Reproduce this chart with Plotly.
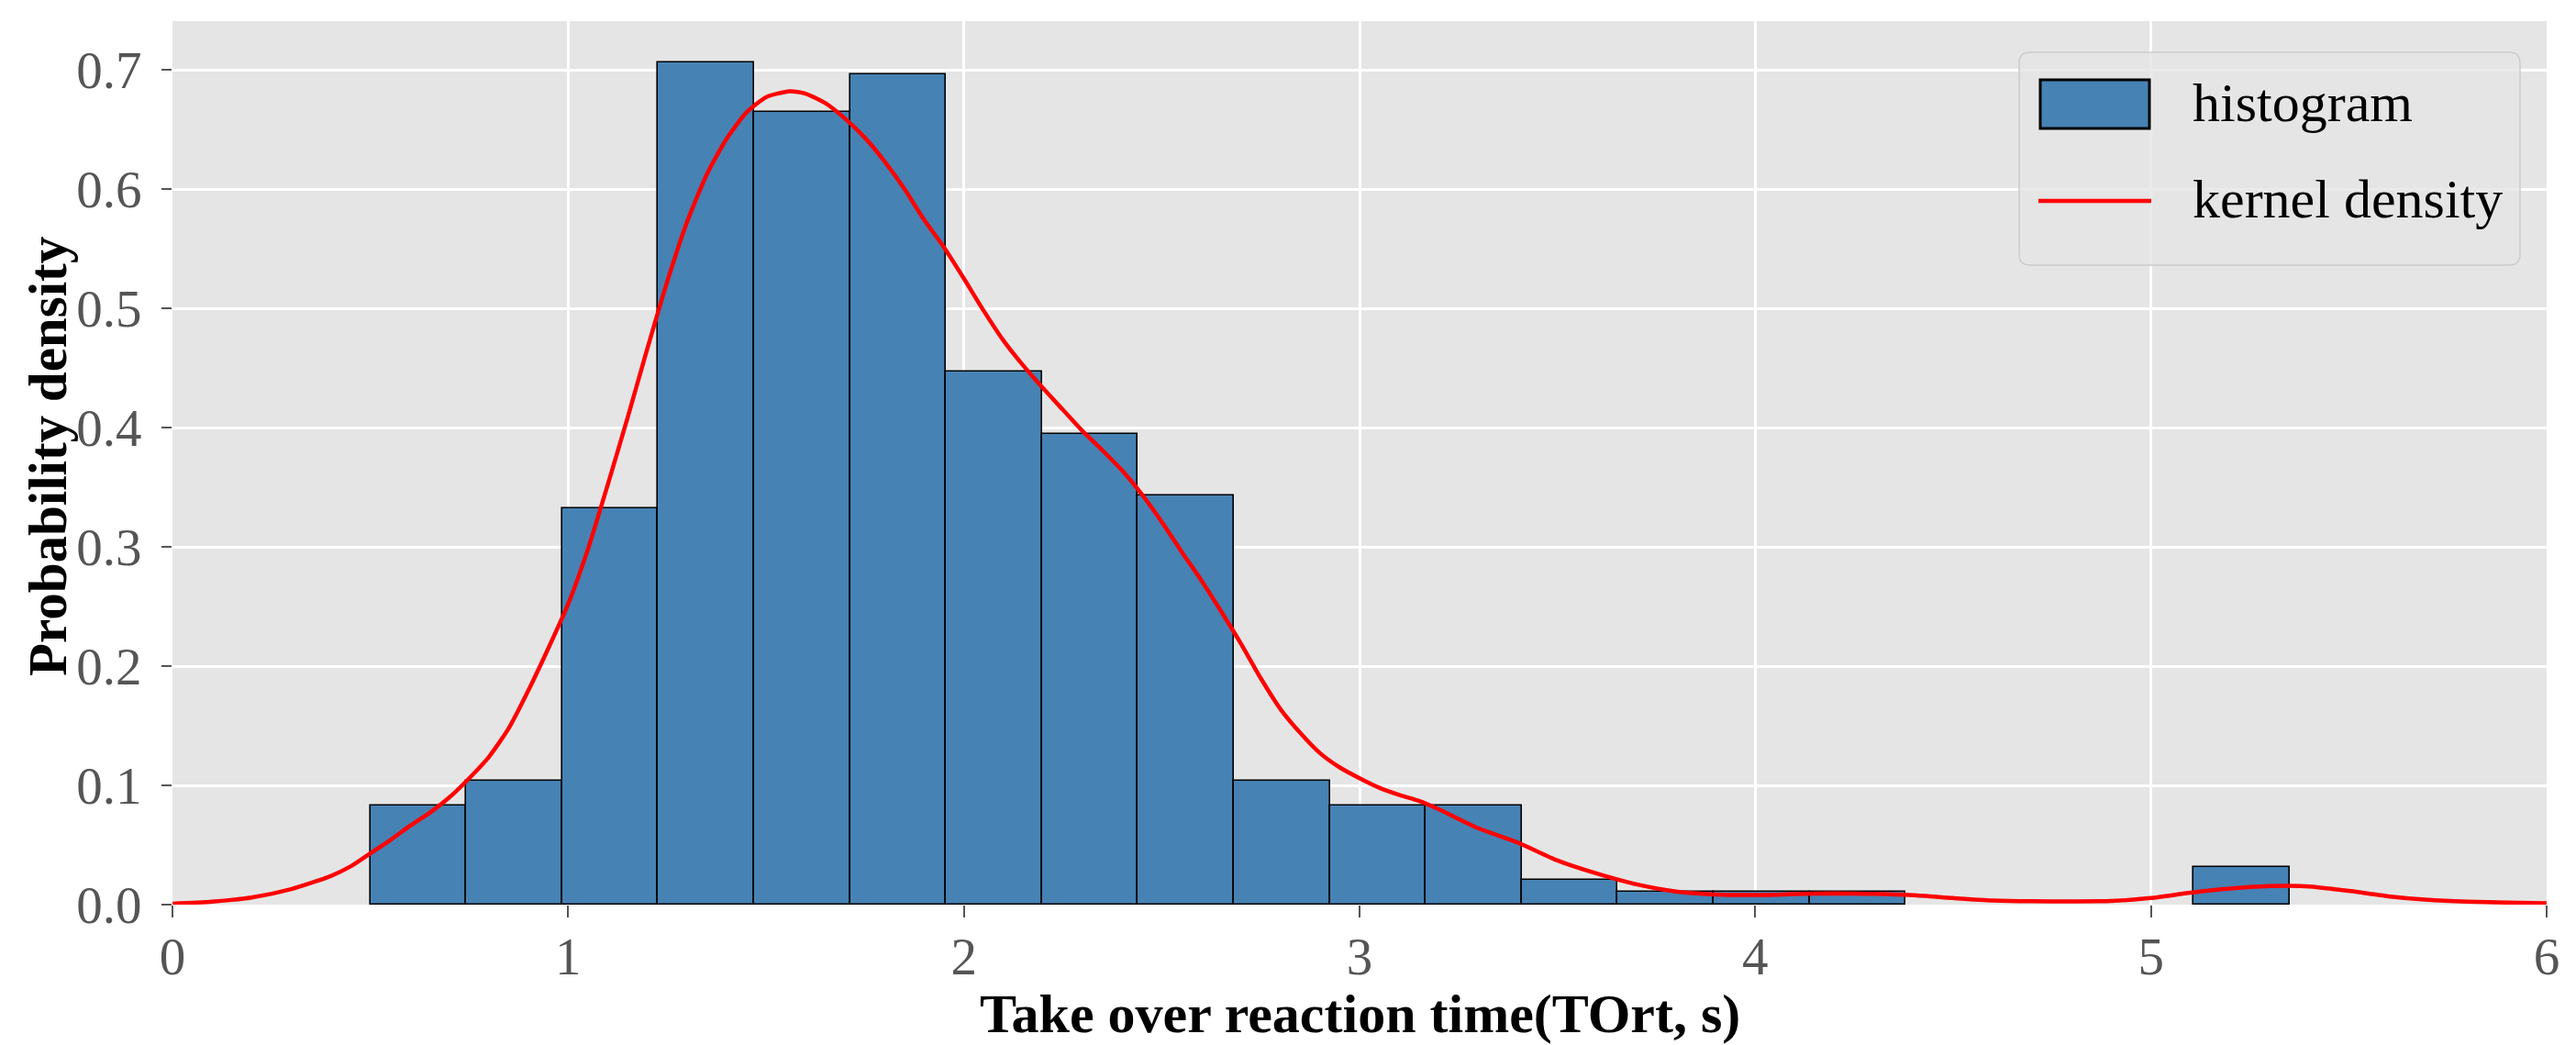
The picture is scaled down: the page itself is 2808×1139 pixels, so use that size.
import plotly.graph_objects as go

# ---- data ----
bin_edges = [0.5, 0.7425, 0.985, 1.2275, 1.47, 1.7125, 1.955, 2.1975, 2.44, 2.6825,
             2.925, 3.1675, 3.41, 3.6525, 3.895, 4.1375, 4.38, 4.6225, 4.865, 5.1075, 5.35]
hist_density = [0.0831, 0.1039, 0.3324, 0.7064, 0.6648, 0.6960, 0.4467, 0.3947, 0.3428, 0.1039,
                0.0831, 0.0831, 0.0208, 0.0104, 0.0104, 0.0104, None, None, None, 0.0312]

kde_x = [0.0, 0.1, 0.2, 0.3, 0.4, 0.45, 0.5, 0.55, 0.6, 0.65, 0.7, 0.75, 0.8, 0.85, 0.9,
         0.95, 1.0, 1.05, 1.1, 1.15, 1.2, 1.25, 1.3, 1.35, 1.4, 1.45, 1.5, 1.56, 1.6, 1.65,
         1.7, 1.75, 1.8, 1.85, 1.9, 1.95, 2.0, 2.05, 2.1, 2.15, 2.2, 2.25, 2.3, 2.35, 2.4,
         2.45, 2.5, 2.55, 2.6, 2.65, 2.7, 2.75, 2.8, 2.85, 2.9, 2.95, 3.0, 3.05, 3.1, 3.15,
         3.2, 3.3, 3.4, 3.5, 3.6, 3.7, 3.8, 3.9, 4.0, 4.1, 4.2, 4.3, 4.4, 4.5, 4.6, 4.7, 4.8,
         4.9, 5.0, 5.1, 5.2, 5.3, 5.35, 5.4, 5.5, 5.6, 5.7, 5.8, 5.9, 6.0]
kde_y = [0.0008, 0.0025, 0.006, 0.013, 0.024, 0.032, 0.043, 0.054, 0.066, 0.077, 0.090,
         0.106, 0.124, 0.148, 0.180, 0.215, 0.252, 0.298, 0.352, 0.408, 0.466, 0.522, 0.572,
         0.612, 0.642, 0.664, 0.677, 0.682, 0.680, 0.672, 0.659, 0.643, 0.623, 0.600, 0.574,
         0.551, 0.525, 0.498, 0.473, 0.452, 0.433, 0.415, 0.397, 0.381, 0.364, 0.344, 0.321,
         0.296, 0.272, 0.246, 0.219, 0.190, 0.164, 0.144, 0.127, 0.115, 0.106, 0.098, 0.092,
         0.087, 0.080, 0.064, 0.052, 0.037, 0.026, 0.017, 0.011, 0.0085, 0.008, 0.0088,
         0.0094, 0.009, 0.0078, 0.0055, 0.0035, 0.0028, 0.0027, 0.003, 0.0055, 0.010, 0.0135,
         0.0155, 0.0158, 0.0152, 0.0115, 0.007, 0.004, 0.0025, 0.0017, 0.0012]

x_ticks = [0, 1, 2, 3, 4, 5, 6]
y_ticks = [0.0, 0.1, 0.2, 0.3, 0.4, 0.5, 0.6, 0.7]
y_ticklabels = ["0.0", "0.1", "0.2", "0.3", "0.4", "0.5", "0.6", "0.7"]
legend_labels = ["histogram", "kernel density"]
x_title = "Take over reaction time(TOrt, s)"
y_title = "Probability density"

# ---- derived ----
centers = [(a + b) / 2 for a, b in zip(bin_edges[:-1], bin_edges[1:])]
widths = [b - a for a, b in zip(bin_edges[:-1], bin_edges[1:])]

SERIF = "Liberation Serif, Times New Roman, serif"
BLUE = "#4682B4"

fig = go.Figure()
fig.add_trace(go.Bar(x=centers, y=hist_density, width=widths,
                     marker=dict(color=BLUE, line=dict(color="black", width=1.6)),
                     name=legend_labels[0], showlegend=False))
fig.add_trace(go.Scatter(x=kde_x, y=kde_y, mode="lines",
                         line=dict(color="red", width=4.5, shape="spline", smoothing=0.6),
                         name=legend_labels[1], showlegend=False))

# page has an 8 px body margin; the figure is sized to fill the rest of the window
OFF = 8
W, H = 2808 - OFF, 1139 - OFF
# target plot area in page pixels: x 188..2776, y 23..986
L, R, T, B = 188 - OFF, W - (2776 - OFF), 23 - OFF, H - (986 - OFF)
fig.update_layout(
    width=W, height=H,
    margin=dict(l=L, r=R, t=T, b=B, autoexpand=False),
    paper_bgcolor="white", plot_bgcolor="#E5E5E5",
    bargap=0,
    showlegend=False,
)
fig.update_xaxes(range=[0, 6], tickvals=x_ticks, ticktext=[str(v) for v in x_ticks],
                 automargin=False,
                 showgrid=True, gridcolor="white", gridwidth=3, zeroline=False, showline=False,
                 ticks="outside", ticklen=13, tickwidth=2, tickcolor="#555555",
                 ticklabelstandoff=-6,
                 tickfont=dict(family=SERIF, size=57, color="#555555"))
fig.update_yaxes(range=[0, 0.7408], tickvals=y_ticks, ticktext=y_ticklabels,
                 automargin=False,
                 showgrid=True, gridcolor="white", gridwidth=3, zeroline=False, showline=False,
                 ticks="outside", ticklen=11, tickwidth=2, tickcolor="#555555",
                 ticklabelstandoff=10,
                 tickfont=dict(family=SERIF, size=57, color="#555555"))

pw, ph = W - L - R, H - T - B
def px(xp):
    return (xp - OFF - L) / pw
def py(yp):
    return (H - B - (yp - OFF)) / ph

# axis titles
fig.add_annotation(x=px(1482), y=py(1105), xref="paper", yref="paper",
                   text="<b>" + x_title + "</b>", showarrow=False,
                   xanchor="center", yanchor="middle",
                   font=dict(family=SERIF, size=60, color="black"))
fig.add_annotation(x=px(52), y=py(498), xref="paper", yref="paper",
                   text="<b>" + y_title + "</b>", showarrow=False, textangle=-90,
                   xanchor="center", yanchor="middle",
                   font=dict(family=SERIF, size=59, color="black"))

# ---- custom legend ----
bx0, bx1, by0, by1 = px(2201), px(2747), py(289), py(57)
rx, ry = 12 / pw, 12 / ph
path = (f"M{bx0+rx},{by1} L{bx1-rx},{by1} Q{bx1},{by1} {bx1},{by1-ry} "
        f"L{bx1},{by0+ry} Q{bx1},{by0} {bx1-rx},{by0} L{bx0+rx},{by0} "
        f"Q{bx0},{by0} {bx0},{by0+ry} L{bx0},{by1-ry} Q{bx0},{by1} {bx0+rx},{by1} Z")
fig.add_shape(type="path", path=path, xref="paper", yref="paper", layer="above",
              fillcolor="rgba(229,229,229,0.8)", line=dict(color="#cccccc", width=1.5))
fig.add_shape(type="rect", xref="paper", yref="paper", layer="above",
              x0=px(2224), x1=px(2343), y0=py(140), y1=py(87),
              fillcolor=BLUE, line=dict(color="black", width=3))
fig.add_shape(type="line", xref="paper", yref="paper", layer="above",
              x0=px(2222), x1=px(2345), y0=py(219), y1=py(219),
              line=dict(color="red", width=4.5))
fig.add_annotation(x=px(2388), y=py(112), xref="paper", yref="paper", text=legend_labels[0],
                   showarrow=False, xanchor="left", yanchor="middle",
                   font=dict(family=SERIF, size=60, color="black"))
fig.add_annotation(x=px(2388), y=py(217), xref="paper", yref="paper", text=legend_labels[1],
                   showarrow=False, xanchor="left", yanchor="middle",
                   font=dict(family=SERIF, size=60, color="black"))

fig.write_html("out.html")
